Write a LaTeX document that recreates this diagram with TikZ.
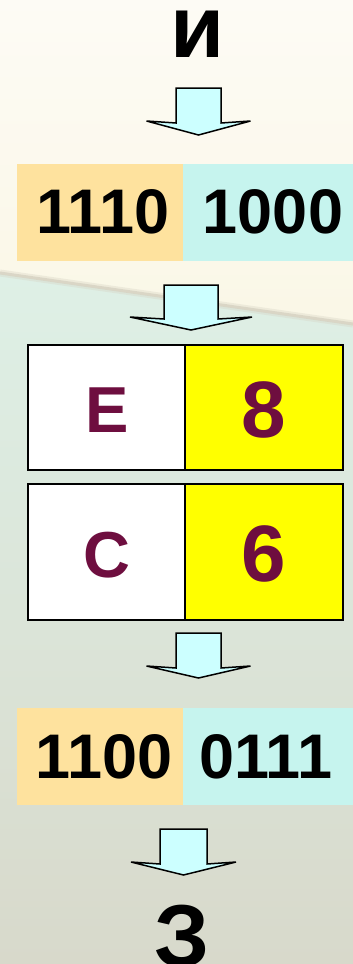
\documentclass[tikz,border=0pt]{standalone}
\usepackage{fontspec}
\setmainfont{Liberation Sans}
\definecolor{bgtop}{HTML}{FDFBF5}
\definecolor{bgmid}{HTML}{FAF7E6}
\definecolor{bglo1}{HTML}{DEF0E6}
\definecolor{bglo2}{HTML}{D2D8C6}
\definecolor{bglo3}{HTML}{D8D9CB}
\definecolor{streak}{HTML}{D6D2C2}
\definecolor{orng}{HTML}{FEE29E}
\definecolor{cyn}{HTML}{C6F4EE}
\definecolor{arrfill}{HTML}{CCFFFF}
\definecolor{yel}{HTML}{FFFF00}
\definecolor{plum}{HTML}{6E0E3F}
\tikzset{
  bandL/.style={fill=orng, draw=none, rectangle, inner sep=0pt, minimum width=166pt, minimum height=97pt},
  bandR/.style={fill=cyn, draw=none, rectangle, inner sep=0pt, minimum width=170pt, minimum height=97pt},
  cellW/.style={fill=white, draw=black, line width=2pt, rectangle, inner sep=0pt, minimum width=157pt},
  cellY/.style={fill=yel, draw=black, line width=2pt, rectangle, inner sep=0pt, minimum width=158pt},
  bits/.style={anchor=base, inner sep=0pt, font=\fontsize{63}{63}\selectfont\bfseries},
  hexL/.style={anchor=base, inner sep=0pt, text=plum, font=\fontsize{65}{65}\selectfont\bfseries},
  hexD/.style={anchor=base, inner sep=0pt, text=plum, font=\fontsize{80}{80}\selectfont\bfseries},
  letter/.style={anchor=base, inner sep=0pt, font=\fontsize{88}{88}\selectfont\bfseries},
  blockarrow/.style={fill=arrfill, draw=black, line width=1.5pt, line join=miter}
}
% #1 centre x, #2 top y, #3 shaft half width, #4 head y, #5 head half width, #6 tip y
\newcommand{\blkarrow}[6]{%
  \draw[blockarrow] (#1-#3,#2) -- (#1+#3,#2) -- (#1+#3,#4+1) -- (#1+#5,#4-1) -- (#1,#6)
    -- (#1-#5,#4-1) -- (#1-#3,#4+1) -- cycle;}
\begin{document}
\begin{tikzpicture}[x=1pt,y=-1pt]
\useasboundingbox (0,0) rectangle (353,964);
% background
\shade[top color=bgtop, bottom color=bgmid] (0,0) rectangle (353,330);
\shade[top color=bglo1, middle color=bglo2, bottom color=bglo3] (0,274) -- (353,325) -- (353,964) -- (0,964) -- cycle;
\draw[streak, line width=7pt, opacity=0.35] (0,273) -- (353,324);
\draw[streak, line width=3pt, opacity=0.8] (0,273) -- (353,324);
% top letter
\node[letter, text height=46pt] (top) at (198,57) {и};
\blkarrow{198.5}{88}{22.5}{122}{52}{135}
% band 1
\node[bandL] (b1l) at (100,212.5) {};
\node[bandR] (b1r) at (268,212.5) {};
\node[bits] (t1l) at (103,233) {1110};
\node[bits] (t1r) at (273,233) {1000};
\blkarrow{191}{285}{27}{318}{61}{330}
% hex boxes
\node[cellW, minimum height=125pt] (e) at (106.5,407.5) {};
\node[cellY, minimum height=125pt] (eight) at (264,407.5) {};
\node[hexL] (et) at (107,432) {E};
\node[hexD] (eightt) at (264,437) {8};
\node[cellW, minimum height=136pt] (c) at (106.5,552) {};
\node[cellY, minimum height=136pt] (six) at (264,552) {};
\node[hexL] (ct) at (107,577) {C};
\node[hexD] (sixt) at (264,581) {6};
\blkarrow{198.5}{633}{22.5}{667}{52}{678}
% band 2
\node[bandL] (b2l) at (100,756.5) {};
\node[bandR] (b2r) at (268,756.5) {};
\node[bits] (t2l) at (104,778) {1100};
\node[bits] (t2r) at (266,778) {0111};
\blkarrow{183.5}{829}{23.5}{863}{52.5}{875}
% bottom letter
\node[letter] (bot) at (182,966) {З};
\end{tikzpicture}
\end{document}
